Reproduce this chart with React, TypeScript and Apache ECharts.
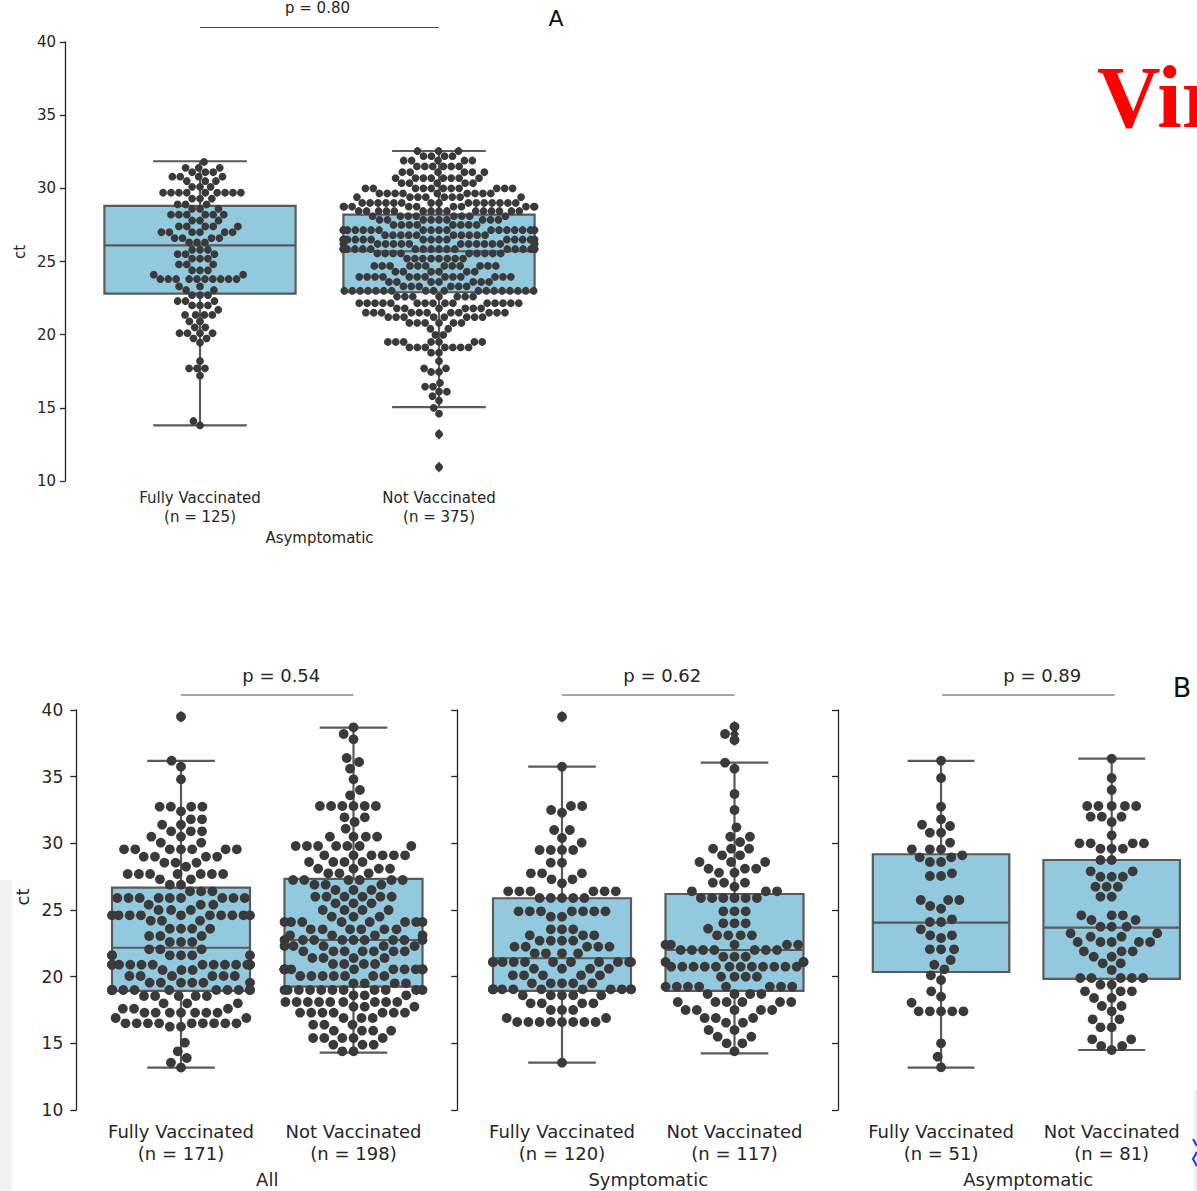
import React, { useEffect, useRef } from "react";
import * as echarts from "echarts";

// ---------------- Data ----------------
const catsA = ["Fully Vaccinated\n(n = 125)", "Not Vaccinated\n(n = 375)"];
const catsAll = ["Fully Vaccinated\n(n = 171)", "Not Vaccinated\n(n = 198)"];
const catsSym = ["Fully Vaccinated\n(n = 120)", "Not Vaccinated\n(n = 117)"];
const catsAsym = ["Fully Vaccinated\n(n = 51)", "Not Vaccinated\n(n = 81)"];

const groupNames = ["Asymptomatic", "All", "Symptomatic", "Asymptomatic"];
const pLabels = ["p = 0.80", "p = 0.54", "p = 0.62", "p = 0.89"];

const yMin = 10;
const yMax = 40;
const yStep = 5;

// box stats: [lower whisker, Q1, median, Q3, upper whisker]
const boxA = [
  [13.8, 22.8, 26.1, 28.8, 31.85],
  [15.05, 22.9, 25.7, 28.2, 32.55],
];
const boxAll = [
  [13.18, 18.93, 22.17, 26.68, 36.18],
  [14.3, 19.25, 22.75, 27.33, 38.68],
];
const boxSym = [
  [13.55, 18.93, 21.38, 25.88, 35.75],
  [14.25, 18.93, 22.0, 26.2, 36.05],
];
const boxAsym = [
  [13.18, 20.35, 24.05, 29.18, 36.18],
  [14.5, 19.83, 23.68, 28.75, 36.35],
];

// box plot fliers
const outA = [[], [13.2, 10.95]];
const outAll = [[39.5], []];
const outSym = [[39.5], [38.75, 38.2, 37.75]];
const outAsym = [[], []];

// swarm observations as [ct value, number of samples at that value]
const aFv = [[31.8,1],[31.4,3],[31.1,3],[30.8,4],[30.5,3],[30.1,3],[29.7,9],[29.3,3],[28.9,3],[28.6,3],[28.2,6],[27.8,3],[27.4,5],[27.0,6],[26.6,4],[26.3,3],[25.8,3],[25.5,3],[25.2,3],[24.8,3],[24.4,3],[24.1,2],[23.8,10],[23.3,2],[23.05,2],[22.7,3],[22.3,3],[22.0,3],[21.7,1],[21.35,4],[20.9,2],[20.5,2],[20.1,4],[19.75,2],[19.45,1],[18.2,1],[17.7,3],[17.2,1],[14.1,1],[13.8,1]];
const aNv = [[32.55,3],[32.2,4],[31.9,5],[31.5,6],[31.1,6],[30.7,8],[30.35,5],[30.0,11],[29.65,9],[29.4,8],[29.0,15],[28.75,10],[28.45,15],[28.1,8],[27.85,9],[27.5,8],[27.15,18],[26.8,10],[26.5,16],[26.2,14],[25.85,19],[25.55,9],[25.2,8],[24.7,12],[24.3,6],[23.95,13],[23.6,7],[23.3,6],[23.0,18],[22.6,7],[22.15,15],[21.8,6],[21.5,11],[21.2,8],[20.8,6],[20.4,2],[19.98,2],[19.5,7],[19.13,7],[18.77,2],[18.2,1],[17.7,2],[17.45,2],[16.7,1],[16.45,2],[16.1,2],[15.8,1],[15.5,1],[15.0,1],[14.6,1],[13.2,1],[10.95,1]];
const allFv = [[39.5,1],[36.2,1],[35.75,1],[34.8,1],[32.75,4],[32.4,1],[31.8,2],[31.4,2],[30.9,3],[30.5,2],[30.05,2],[29.55,7],[29.0,4],[28.55,3],[28.25,1],[27.7,7],[27.3,2],[26.9,2],[26.4,3],[25.9,9],[25.4,3],[25.0,3],[24.6,10],[24.2,3],[23.6,4],[23.05,3],[22.6,3],[22.05,3],[21.6,6],[20.9,13],[20.5,3],[20.05,6],[19.55,6],[19.0,11],[18.55,5],[18.0,3],[17.6,3],[17.3,7],[16.9,2],[16.5,9],[16.25,2],[15.05,1],[14.4,1],[13.9,1],[13.55,1],[13.18,1]];
const allNv = [[38.7,1],[38.2,1],[37.8,1],[36.4,1],[36.1,1],[35.6,1],[34.8,1],[34.0,1],[33.6,1],[32.8,6],[31.95,2],[31.6,1],[31.1,1],[30.5,4],[29.8,7],[29.1,6],[28.6,4],[28.1,4],[27.75,3],[27.25,6],[26.9,3],[26.5,3],[26.0,6],[25.5,3],[25.0,4],[24.5,3],[24.1,8],[23.55,6],[23.1,4],[22.75,9],[22.3,5],[21.9,7],[21.4,4],[20.95,4],[20.55,12],[20.05,7],[19.5,4],[19.0,11],[18.6,3],[18.1,9],[17.75,3],[17.3,7],[16.9,3],[16.4,3],[15.95,4],[15.4,5],[14.9,3],[14.4,2]];
const symFv = [[39.5,1],[35.75,1],[32.8,2],[32.5,1],[32.3,1],[31.0,2],[30.4,1],[30.05,1],[29.5,4],[28.55,2],[27.75,3],[27.3,2],[27.0,1],[26.4,6],[25.9,5],[24.9,7],[24.5,2],[23.55,3],[23.1,3],[22.7,4],[22.25,5],[21.75,4],[21.1,11],[20.6,4],[20.1,5],[19.5,5],[19.05,11],[18.6,5],[18.0,4],[17.5,3],[16.9,2],[16.6,8],[13.55,1]];
const symNv = [[38.75,1],[38.2,1],[37.75,1],[36.05,1],[35.6,1],[33.7,1],[32.5,1],[31.2,1],[30.5,2],[30.1,1],[29.6,3],[29.1,2],[28.6,3],[28.1,3],[27.8,2],[27.05,3],[26.75,1],[26.4,3],[25.9,6],[24.9,3],[24.0,3],[23.6,1],[23.1,4],[22.4,5],[22.0,7],[21.5,3],[21.1,3],[20.75,12],[20.0,4],[19.25,8],[18.7,4],[18.1,6],[17.5,5],[16.9,3],[16.55,2],[16.0,2],[15.5,2],[15.0,2],[14.4,1]];
const asymFv = [[36.2,1],[34.9,1],[32.75,1],[31.8,1],[31.4,1],[31.3,1],[30.8,2],[30.05,1],[29.55,3],[29.1,1],[28.95,2],[28.6,2],[27.75,1],[27.55,2],[25.75,3],[25.3,1],[25.1,1],[24.3,1],[24.1,2],[23.55,1],[23.1,2],[22.9,1],[22.05,3],[21.25,1],[20.9,1],[20.55,1],[20.1,1],[19.75,1],[18.9,1],[18.5,1],[18.05,1],[17.4,5],[15.0,1],[14.0,1],[13.2,1]];
const asymNv = [[36.35,1],[34.9,1],[34.0,1],[32.8,5],[32.0,3],[31.6,1],[30.6,1],[30.0,4],[29.6,3],[28.75,2],[27.9,2],[27.5,3],[26.75,3],[26.0,2],[24.6,3],[24.25,2],[23.75,3],[23.25,2],[23.0,2],[22.6,5],[21.9,3],[21.5,2],[21.0,2],[20.5,1],[19.9,5],[19.4,2],[18.9,3],[18.4,2],[17.8,2],[17.4,1],[16.8,2],[16.2,2],[15.3,2],[14.8,2],[14.5,1]];

// ---------------- Styles / layout ----------------
const TEXT = "#262626";
const AXIS = "#262626";
const BOX_FILL = "#93c9de";
const EDGE = "#5a5a5a";
const DOT = "#3a3a3a";
const FONT = "DejaVu Sans";

type Panel = {
  left: number; top: number; width: number; height: number;
  axisOffset: number; showLabels: boolean;
  cats: string[]; box: number[][]; out: number[][]; swarm: number[][][];
  fs: number; lh: number; labelMargin: number; tickFs: number; tickMargin: number; tickLen: number;
  dot: number; gap: number; diamond: number[];
  group: string; groupY: number; p: string; pY: number; lineY: number; pShift: number;
};

const panels: Panel[] = [
  { left: 80.5, top: 42, width: 478, height: 439, axisOffset: 15.5, showLabels: true,
    cats: catsA, box: boxA, out: outA, swarm: [aFv, aNv],
    fs: 15, lh: 19, labelMargin: 7.5, tickFs: 15, tickMargin: 9, tickLen: 5,
    dot: 7.8, gap: 7.9, diamond: [8, 11],
    group: groupNames[0], groupY: 538, p: pLabels[0], pY: 8, lineY: 27.5, pShift: -2 },
  { left: 94.75, top: 710, width: 345, height: 400, axisOffset: 18.5, showLabels: true,
    cats: catsAll, box: boxAll, out: outAll, swarm: [allFv, allNv],
    fs: 18, lh: 21.5, labelMargin: 11, tickFs: 17, tickMargin: 13, tickLen: 6,
    dot: 9.8, gap: 11.2, diamond: [9, 12],
    group: groupNames[1], groupY: 1179, p: pLabels[1], pY: 675, lineY: 695, pShift: 14 },
  { left: 475.75, top: 710, width: 345, height: 400, axisOffset: 18.5, showLabels: false,
    cats: catsSym, box: boxSym, out: outSym, swarm: [symFv, symNv],
    fs: 18, lh: 21.5, labelMargin: 11, tickFs: 17, tickMargin: 13, tickLen: 6,
    dot: 9.8, gap: 11.2, diamond: [9, 12],
    group: groupNames[2], groupY: 1179, p: pLabels[2], pY: 675, lineY: 695, pShift: 14 },
  { left: 855.75, top: 710, width: 345, height: 400, axisOffset: 17.75, showLabels: false,
    cats: catsAsym, box: boxAsym, out: outAsym, swarm: [asymFv, asymNv],
    fs: 18, lh: 21.5, labelMargin: 11, tickFs: 17, tickMargin: 13, tickLen: 6,
    dot: 9.8, gap: 11.2, diamond: [9, 12],
    group: groupNames[3], groupY: 1179, p: pLabels[3], pY: 675, lineY: 695, pShift: 14 },
];

function expand(pairs: number[][]): number[] {
  const out: number[] = [];
  pairs.forEach(([v, n]) => { for (let i = 0; i < n; i++) out.push(v); });
  return out;
}

// seaborn-like beeswarm layout; returns value + horizontal pixel offset
function beeswarm(values: number[], pxPerUnit: number, d: number, half: number) {
  const order = values.map((_, i) => i).sort((a, b) => values[a] - values[b] || a - b);
  const placed: { x: number; y: number }[] = [];
  const res: { v: number; dx: number }[] = [];
  const d2 = d * d;
  for (const idx of order) {
    const y = values[idx] * pxPerUnit;
    const neigh = placed.filter((p) => Math.abs(p.y - y) < d);
    const lefts: number[] = [];
    const rights: number[] = [];
    for (const p of neigh) {
      const dy = p.y - y;
      const dx = Math.sqrt(Math.max(d2 - dy * dy, 0));
      lefts.push(p.x - dx);
      rights.push(p.x + dx);
    }
    const cands = [0, ...lefts, ...rights].map((c, i) => [c, i]);
    cands.sort((a, b) => Math.abs(a[0]) - Math.abs(b[0]) || a[1] - b[1]);
    let x = 0;
    for (const [c] of cands) {
      let ok = true;
      for (const p of neigh) {
        const dy = p.y - y;
        const dx = p.x - c;
        if (dx * dx + dy * dy < d2 - 1e-6) { ok = false; break; }
      }
      if (ok) { x = c; break; }
    }
    placed.push({ x, y });
    res.push({ v: values[idx], dx: Math.max(-half, Math.min(half, x)) });
  }
  return res;
}

function centeredText(x: number, y: number, text: string, font: string, fill: string, extra: any = {}) {
  return {
    type: "text", x, y, ...extra,
    style: { text, fill, font, align: "center", verticalAlign: "middle", textAlign: "center", textVerticalAlign: "middle" },
  };
}

function buildOption() {
  const series: any[] = [];
  const graphic: any[] = [];
  panels.forEach((p, i) => {
    const band = p.width / p.cats.length;
    const boxW = band * 0.8;
    const pxPerUnit = p.height / (yMax - yMin);
    // boxes
    series.push({
      type: "custom", xAxisIndex: i, yAxisIndex: i, silent: true, z: 1,
      data: p.box.map((b, k) => [k, ...b]),
      encode: { x: 0, y: [1, 2, 3, 4, 5] },
      renderItem: (params: any, api: any) => {
        const k = api.value(0);
        const lo = api.coord([k, api.value(1)]);
        const q1 = api.coord([k, api.value(2)]);
        const med = api.coord([k, api.value(3)]);
        const q3 = api.coord([k, api.value(4)]);
        const hi = api.coord([k, api.value(5)]);
        const bw = api.size([1, 0])[0] * 0.8;
        const cx = lo[0];
        const cap = bw * 0.245;
        const ls = { stroke: EDGE, lineWidth: 2.2 };
        return {
          type: "group",
          children: [
            { type: "line", shape: { x1: cx, y1: q1[1], x2: cx, y2: lo[1] }, style: ls },
            { type: "line", shape: { x1: cx, y1: q3[1], x2: cx, y2: hi[1] }, style: ls },
            { type: "line", shape: { x1: cx - cap, y1: lo[1], x2: cx + cap, y2: lo[1] }, style: ls },
            { type: "line", shape: { x1: cx - cap, y1: hi[1], x2: cx + cap, y2: hi[1] }, style: ls },
            { type: "rect", shape: { x: cx - bw / 2, y: q3[1], width: bw, height: q1[1] - q3[1] },
              style: { fill: BOX_FILL, stroke: EDGE, lineWidth: 2.2 } },
            { type: "line", shape: { x1: cx - bw / 2, y1: med[1], x2: cx + bw / 2, y2: med[1] }, style: ls },
          ],
        };
      },
    });
    // fliers
    const fl: number[][] = [];
    p.out.forEach((arr, k) => arr.forEach((v) => fl.push([k, v])));
    series.push({
      type: "scatter", xAxisIndex: i, yAxisIndex: i, silent: true, z: 2,
      symbol: "diamond", symbolSize: p.diamond,
      itemStyle: { color: DOT, opacity: 1 }, data: fl,
    });
    // swarm
    const pts: any[] = [];
    p.swarm.forEach((pairs, k) => {
      const lay = beeswarm(expand(pairs), pxPerUnit, p.gap, boxW / 2);
      lay.forEach((q) => pts.push({ value: [k, q.v], symbolOffset: [q.dx, 0] }));
    });
    series.push({
      type: "scatter", xAxisIndex: i, yAxisIndex: i, silent: true, z: 3,
      symbol: "circle", symbolSize: p.dot, itemStyle: { color: DOT, opacity: 1 }, data: pts,
      progressive: 0, large: false,
    });

    // group name, p-value annotation
    const c0 = p.left + band / 2;
    const c1 = p.left + band * 1.5;
    const mid = p.left + p.width / 2;
    graphic.push(centeredText(mid, p.groupY, p.group, `${p.fs}px "${FONT}"`, TEXT));
    graphic.push({
      type: "line", shape: { x1: c0, y1: p.lineY, x2: c1, y2: p.lineY },
      style: { stroke: "#4a4a4a", lineWidth: 1 },
    });
    graphic.push(centeredText((c0 + c1) / 2 + p.pShift, p.pY, p.p, `${p.fs}px "${FONT}"`, TEXT));
  });

  // y axis titles
  graphic.push(centeredText(20, 252, "ct", `15px "${FONT}"`, TEXT, { rotation: Math.PI / 2 }));
  graphic.push(centeredText(22, 897, "ct", `18px "${FONT}"`, TEXT, { rotation: Math.PI / 2 }));
  // panel letters
  graphic.push(centeredText(556, 18.5, "A", `22px "${FONT}"`, "#111"));
  graphic.push(centeredText(1182, 687, "B", `27px "${FONT}"`, "#111"));
  // red title fragment at the right edge (cut off in the source too)
  graphic.push({
    type: "text", x: 1097, y: 97,
    style: { text: "Viral", fill: "#ff0000", font: `bold 88px "Liberation Serif"`, align: "left", verticalAlign: "middle", textAlign: "left", textVerticalAlign: "middle" },
  });
  // page edge artefacts
  graphic.push({ type: "rect", shape: { x: 0, y: 880, width: 12, height: 311 }, style: { fill: "#f2f2f2" }, z: -10 });
  graphic.push({ type: "rect", shape: { x: 1194, y: 1090, width: 3, height: 101 }, style: { fill: "#f0f0f0" }, z: -10 });
  graphic.push({ type: "polyline", shape: { points: [[1193, 1139], [1197, 1146]] }, style: { stroke: "#2233ee", lineWidth: 2, fill: null } });
  graphic.push({ type: "polyline", shape: { points: [[1197, 1152], [1193, 1159], [1197, 1166]] }, style: { stroke: "#2233ee", lineWidth: 2, fill: null } });

  return {
    animation: false,
    backgroundColor: "#ffffff",
    grid: panels.map((p) => ({ left: p.left, top: p.top, width: p.width, height: p.height, containLabel: false })),
    xAxis: panels.map((p, i) => ({
      type: "category", gridIndex: i, data: p.cats, boundaryGap: true,
      axisLine: { show: false }, axisTick: { show: false }, splitLine: { show: false },
      axisLabel: { interval: 0, fontSize: p.fs, lineHeight: p.lh, margin: p.labelMargin, color: TEXT, fontFamily: FONT },
    })),
    yAxis: panels.map((p, i) => ({
      type: "value", gridIndex: i, min: yMin, max: yMax, interval: yStep, offset: p.axisOffset,
      axisLine: { show: true, lineStyle: { color: AXIS, width: 1.3 } },
      axisTick: { show: true, length: p.tickLen, lineStyle: { color: AXIS, width: 1.3 } },
      axisLabel: { show: p.showLabels, fontSize: p.tickFs, margin: p.tickMargin, color: TEXT, fontFamily: FONT },
      splitLine: { show: false },
    })),
    series,
    graphic,
  };
}

export default function App() {
  const ref = useRef<HTMLDivElement>(null);
  useEffect(() => {
    if (!ref.current) return;
    const chart = echarts.init(ref.current, undefined, { renderer: "svg" });
    chart.setOption(buildOption() as any);
    return () => chart.dispose();
  }, []);
  return (
    <div
      ref={ref}
      style={{ position: "fixed", left: 0, top: 0, width: 1197, height: 1191, background: "#fff" }}
    />
  );
}
